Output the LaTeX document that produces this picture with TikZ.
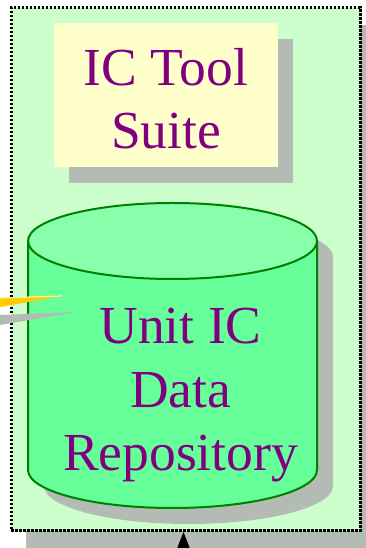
\documentclass[tikz,border=0pt]{standalone}
\usepackage{fontspec}
\setmainfont{Liberation Serif}
\usetikzlibrary{arrows.meta}
\definecolor{panelfill}{RGB}{204,255,204}
\definecolor{notefill}{RGB}{255,255,204}
\definecolor{canbody}{RGB}{102,255,153}
\definecolor{cantop}{RGB}{136,255,170}
\definecolor{canline}{RGB}{0,128,0}
\definecolor{ink}{RGB}{128,0,128}
\definecolor{dropgray}{RGB}{180,186,180}
\definecolor{pointer}{RGB}{255,204,0}
\definecolor{pointerhi}{RGB}{255,240,160}
\begin{document}
\begin{tikzpicture}[x=1pt,y=1pt,
  bigtext/.style={text=ink,font=\fontsize{53.5}{63.5}\selectfont,align=center,inner sep=0pt},
  canedge/.style={draw=canline,line width=2pt},
  candrum/.style={insert path={(28,307) -- (28,78)
      arc[start angle=180,end angle=360,x radius=144.5,y radius=38] -- (317,307)}}]
\useasboundingbox (0,0) rectangle (365,548);

% outer panel with its drop shadow
\fill[dropgray] (26,-10) rectangle (375,523);
\node[draw=black,fill=panelfill,line width=2.8pt,dash pattern=on 2.4pt off 1.6pt,
      minimum width=349pt,minimum height=523pt,inner sep=0pt,anchor=south west]
      (panel) at (10,16) {};

% tool suite box
\fill[dropgray] (69,365) rectangle (293,509);
\node[fill=notefill,minimum width=224pt,minimum height=144pt,inner sep=0pt,
      anchor=south west] (suite) at (54,381) {};
\node[bigtext] (suitetext) at (166,449.5) {IC Tool\\Suite};

% repository drum
\begin{scope}[shift={(16,-16)}]
  \fill[dropgray, candrum] arc[start angle=0,end angle=180,x radius=144.5,y radius=38] -- cycle;
\end{scope}
\fill[canbody, candrum] arc[start angle=0,end angle=180,x radius=144.5,y radius=38] -- cycle;
\fill[cantop] (172.5,307) ellipse[x radius=144.5,y radius=38];
\draw[canedge, candrum];
\draw[canedge] (172.5,307) ellipse[x radius=144.5,y radius=38];
\node[bigtext] (repotext) at (180.5,152.5) {Unit IC\\Data\\Repository};

% callout pointer coming in from the left
\fill[dropgray] (0,233) -- (77,236) -- (0,223) -- cycle;
\fill[pointer] (0,250) -- (62,252) -- (0,241) -- cycle;
\draw[pointerhi,line width=1.2pt] (0,250) -- (62,252);

% incoming connector at the bottom
\coordinate (feed) at (183.5,-40);
\draw[line width=0.8pt,-{Triangle[width=13pt,length=17pt]}] (feed) -- (feed |- panel.south);
\end{tikzpicture}
\end{document}
